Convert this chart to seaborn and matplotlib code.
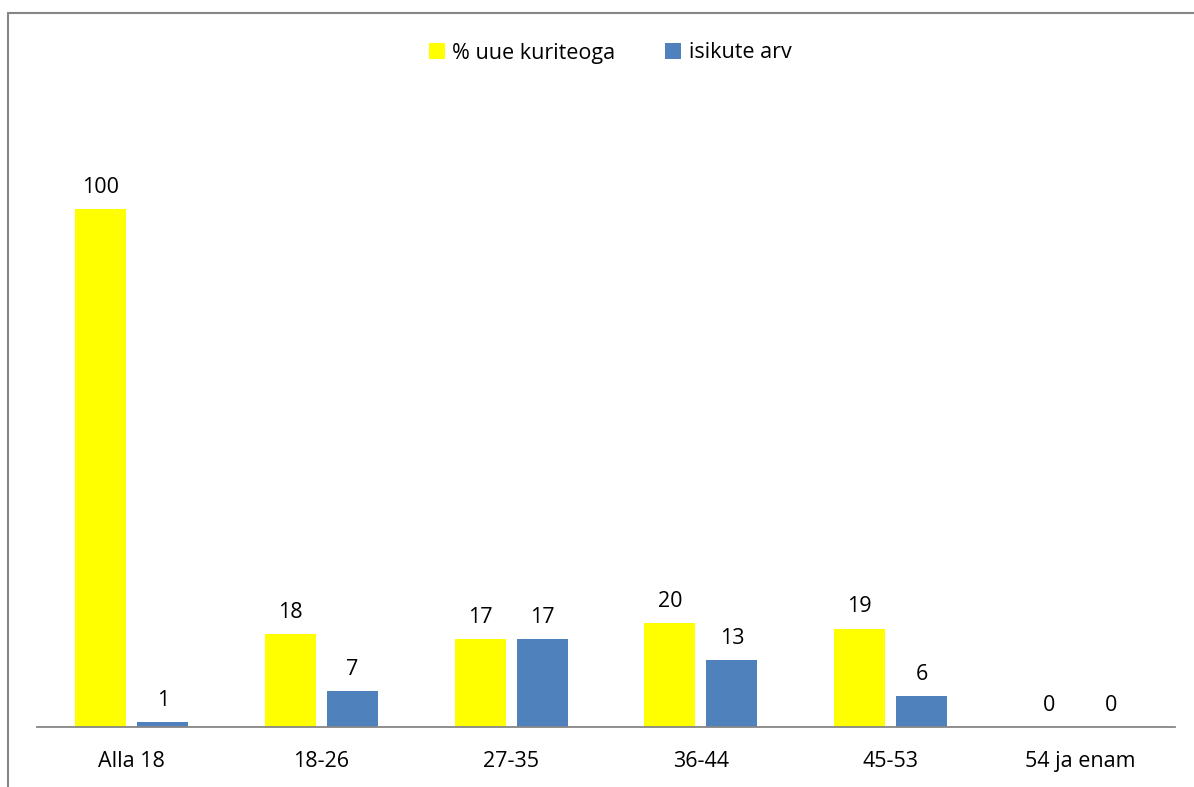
import matplotlib
matplotlib.use("Agg")
import matplotlib.pyplot as plt
import seaborn as sns
import pandas as pd
from matplotlib.lines import Line2D

categories = ["Alla 18", "18-26", "27-35", "36-44", "45-53", "54 ja enam"]
series_names = ["% uue kuriteoga", "isikute arv"]
pct_new_crime = [100, 18, 17, 20, 19, 0]
persons = [1, 7, 17, 13, 6, 0]

df = pd.DataFrame({
    "cat": categories * 2,
    "series": [series_names[0]] * len(categories) + [series_names[1]] * len(categories),
    "value": pct_new_crime + persons,
})

sns.set_theme(style="white")
plt.rcParams["font.family"] = ["Open Sans", "DejaVu Sans"]
plt.rcParams["text.color"] = "black"

W, H = 1194, 787
FS = 15.5
fig = plt.figure(figsize=(W / 100, H / 100), dpi=100)
ax = fig.add_axes([37 / W, (H - 727) / H, (1175 - 37) / W, (727 - 105) / H])

palette = {series_names[0]: "#FFFF00", series_names[1]: "#4F81BD"}
sns.barplot(data=df, x="cat", y="value", hue="series", order=categories,
            hue_order=series_names, palette=palette, width=0.654, gap=0.177,
            saturation=1, ax=ax, errorbar=None, linewidth=0)

ax.set_ylim(0, 120)
ax.set_xlim(-0.5, len(categories) - 0.5)
ax.set_xlabel("")
ax.set_ylabel("")
ax.set_yticks([])
for s in ["top", "right", "left"]:
    ax.spines[s].set_visible(False)
ax.spines["bottom"].set_color("#868686")
ax.spines["bottom"].set_linewidth(1.3)
ax.tick_params(axis="x", length=0, pad=17, labelsize=FS, colors="black")

for cont in ax.containers:
    ax.bar_label(cont, fmt="%d", padding=8, fontsize=FS, color="black")

sns.move_legend(ax, "center", bbox_to_anchor=(610 / W, 1 - 53 / H),
                bbox_transform=fig.transFigure, ncol=2, frameon=False,
                title=None, fontsize=FS, handlelength=0.75, handleheight=0.75,
                handletextpad=0.35, columnspacing=2.3, labelcolor="black")

# chart border (top and left visible)
fig.add_artist(Line2D([8 / W, 1.0], [1 - 13 / H, 1 - 13 / H], transform=fig.transFigure,
                      color="#868686", lw=1.5))
fig.add_artist(Line2D([8 / W, 8 / W], [0, 1 - 13 / H], transform=fig.transFigure,
                      color="#868686", lw=1.5))

fig.savefig("out.png", dpi=100, facecolor="white")
